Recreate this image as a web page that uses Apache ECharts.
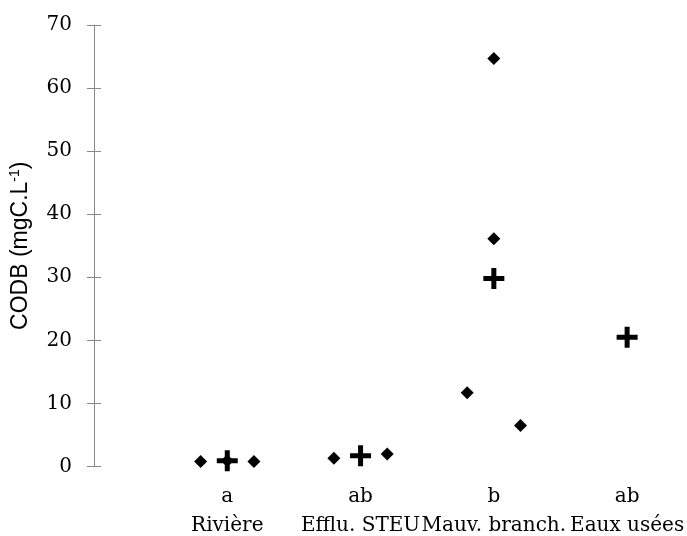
<!DOCTYPE html>
<html><head><meta charset="utf-8">
<script src="https://cdn.jsdelivr.net/npm/echarts@6/dist/echarts.min.js"></script>
<style>html,body{margin:0;padding:0;background:#fff}#c{width:687px;height:536px}</style>
</head><body><div id="c"></div>
<script>
// Category labels
const groupLetters = ['a', 'ab', 'b', 'ab'];
const categories = ['Rivière', 'Efflu. STEU', 'Mauv. branch.', 'Eaux usées'];
const yTicks = [0, 10, 20, 30, 40, 50, 60, 70];
// Individual measurements (diamonds): [x position, value]
const pointsX = [0.8, 1.0, 1.2, 1.8, 2.2, 2.8, 3.0, 3.0, 3.2];
const pointsY = [0.8, 0.9, 0.8, 1.3, 2.0, 11.7, 64.7, 36.1, 6.5];
// Means (plus markers)
const meanX = [1, 2, 3, 4];
const meanY = [0.9, 1.7, 29.8, 20.5];

const chart = echarts.init(document.getElementById('c'));
const axisColor = '#888888';
const gridLeft = 92, gridRight = 5;
chart.setOption({
  animation: false,
  backgroundColor: '#fff',
  grid: {left: gridLeft, top: 25, bottom: 66, right: gridRight},
  xAxis: {
    type: 'value', min: 0, max: 4.4, interval: 1,
    axisLine: {show: false}, axisTick: {show: false}, splitLine: {show: false},
    axisLabel: {
      margin: 16,
      formatter: function (v) {
        const i = Math.round(v) - 1;
        if (Math.abs(v - Math.round(v)) > 1e-6 || i < 0 || i >= categories.length) return '';
        return '{g|' + groupLetters[i] + '}\n{c|' + categories[i] + '}';
      },
      rich: {
        g: {fontFamily: 'DejaVu Serif', fontSize: 20, color: '#000', lineHeight: 29},
        c: {fontFamily: 'DejaVu Serif', fontSize: 20, color: '#000', lineHeight: 29}
      }
    }
  },
  yAxis: [{
    type: 'value', min: 0, max: 70, interval: 10, position: 'left',
    axisLine: {show: true, lineStyle: {color: axisColor, width: 1}},
    axisTick: {show: true, length: 7, lineStyle: {color: axisColor}},
    splitLine: {show: false},
    axisLabel: {
      margin: 22, color: '#000', fontFamily: 'DejaVu Serif', fontSize: 20,
      formatter: function (v) { return yTicks.indexOf(v) >= 0 ? String(v) : ''; }
    },
    name: '{a|CODB (mgC.L}{s|-1}{a|)}',
    nameLocation: 'middle', nameGap: 60, nameRotate: 90,
    nameTextStyle: {
      rich: {
        a: {fontFamily: 'Liberation Sans', fontSize: 23, color: '#000', lineHeight: 26},
        s: {fontFamily: 'Liberation Sans', fontSize: 14, color: '#000', lineHeight: 26, verticalAlign: 'top'}
      }
    }
  }, {
    type: 'value', min: 0, max: 70, interval: 10, position: 'left', offset: 0,
    axisLine: {show: false},
    axisTick: {show: true, inside: true, length: 7, lineStyle: {color: axisColor, width: 1}},
    axisLabel: {show: false}, splitLine: {show: false}
  }],
  series: [{
    type: 'scatter', symbol: 'diamond', symbolSize: [13, 13],
    itemStyle: {color: '#000', opacity: 1},
    data: pointsX.map((x, i) => [x, pointsY[i]])
  }, {
    type: 'scatter', symbol: 'path://M8,0H13V8H21V13H13V21H8V13H0V8H8Z', symbolSize: [21, 21],
    itemStyle: {color: '#000', opacity: 1},
    data: meanX.map((x, i) => [x, meanY[i]])
  }]
});
</script></body></html>
